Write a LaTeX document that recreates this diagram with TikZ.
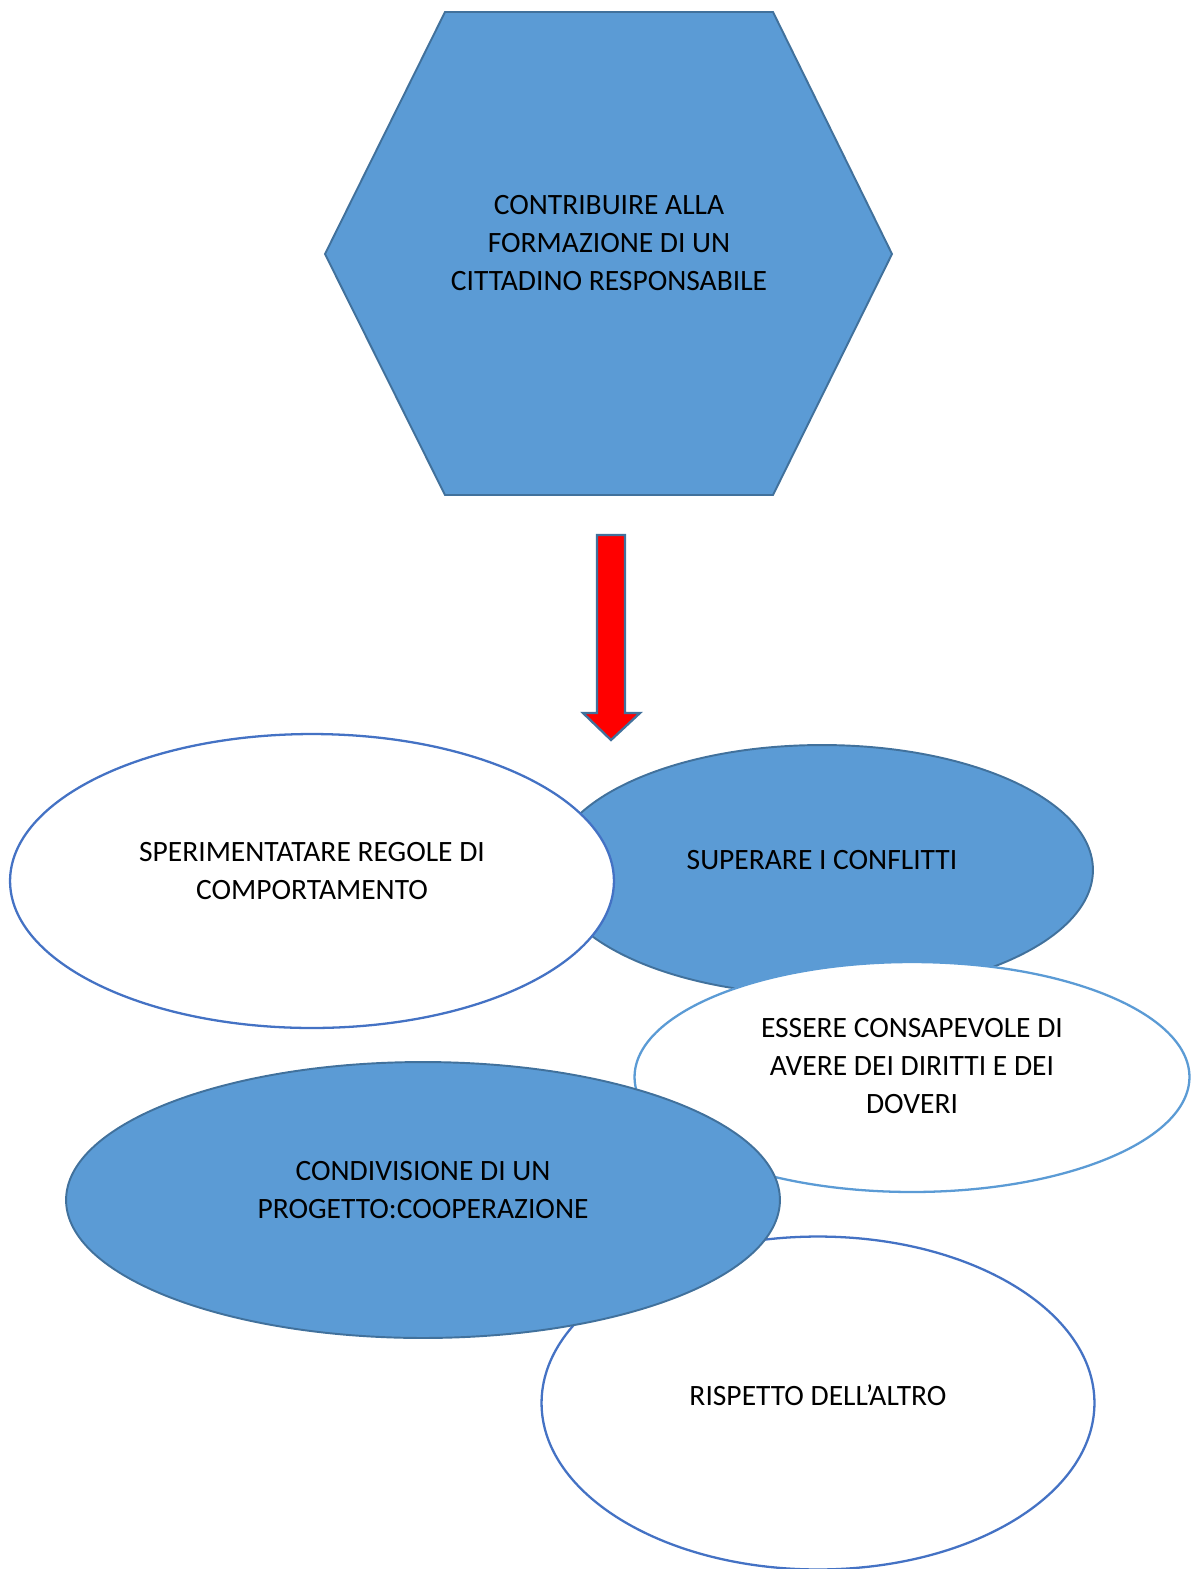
\documentclass[tikz,border=0pt]{standalone}
\usepackage{fontspec}
\setmainfont{Carlito}
\usetikzlibrary{shapes.geometric}
\definecolor{azzurro}{HTML}{5B9BD5}
\definecolor{bordo}{HTML}{41719C}
\definecolor{blu}{HTML}{4472C4}

\begin{document}
\begin{tikzpicture}[x=0.02cm , y=-0.02cm ,
	pieno/.style={ellipse , draw=bordo , fill=azzurro , line width=1.1pt , inner sep=0pt},
	vuoto/.style={ellipse , draw=blu , fill=white , line width=1.3pt , inner sep=0pt},
	testo/.style={align=center , font=\fontsize{16.8}{21.5}\selectfont}]
	\useasboundingbox (0,0) rectangle (1200,1569);
% OBIETTIVO
	\filldraw [fill=azzurro , draw=bordo , line width=1.1pt] (445,12) -- (773,12) -- (892,254) -- (773,495) -- (445,495) -- (325,254) -- cycle;
	\node [testo] (goal) at (609,243) {CONTRIBUIRE ALLA\\FORMAZIONE DI UN\\CITTADINO RESPONSABILE};
% FRECCIA
	\filldraw [fill=red , draw=bordo , line width=1.3pt] (597,535) -- (625,535) -- (625,713) -- (640,713) -- (611,740) -- (583,713) -- (597,713) -- cycle;
% OVALI
	\node [pieno , minimum width=10.84cm , minimum height=5cm] (conflicts) at (822,870) {};
	\node [vuoto , minimum width=12.08cm , minimum height=5.88cm] (rules) at (312,881) {};
	\node [vuoto , draw=azzurro , minimum width=11.1cm , minimum height=4.6cm] (rights) at (912,1077) {};
	\node [vuoto , minimum width=11.06cm , minimum height=6.66cm] (respect) at (818,1403) {};
	\node [pieno , minimum width=14.28cm , minimum height=5.52cm] (project) at (423,1200) {};
% TESTI
	\node [testo] (rulestext) at ([yshift=0.2cm]rules.center) {SPERIMENTATARE REGOLE DI\\COMPORTAMENTO};
	\node [testo] (conflictstext) at ([yshift=0.2cm]conflicts.center) {SUPERARE I CONFLITTI};
	\node [testo] (rightstext) at ([yshift=0.22cm]rights.center) {ESSERE CONSAPEVOLE DI\\AVERE DEI DIRITTI E DEI\\DOVERI};
	\node [testo] (projecttext) at ([yshift=0.2cm]project.center) {CONDIVISIONE DI UN\\PROGETTO:COOPERAZIONE};
	\node [testo] (respecttext) at ([yshift=0.16cm]respect.center) {RISPETTO DELL’ALTRO};
\end{tikzpicture}
\end{document}
